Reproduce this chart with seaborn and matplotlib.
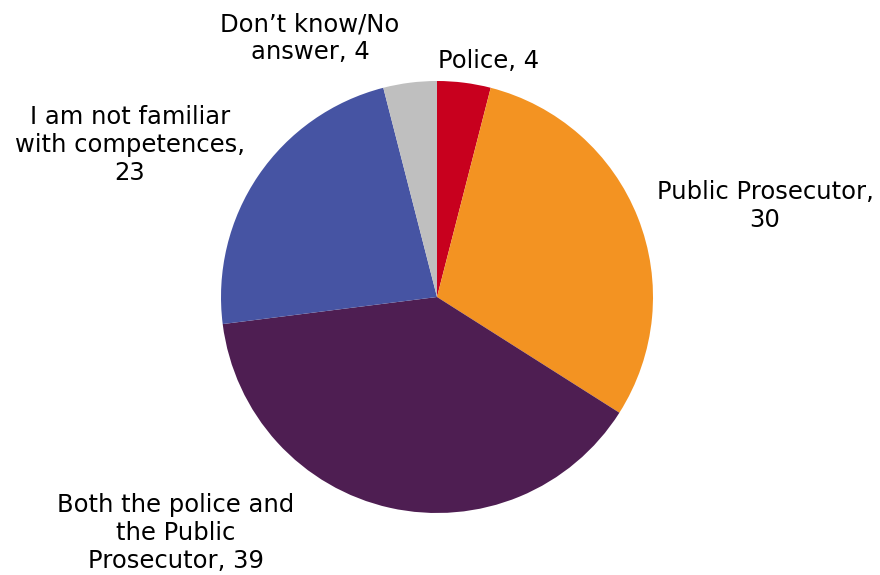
import matplotlib
matplotlib.use("Agg")
import matplotlib.pyplot as plt
import seaborn as sns

sns.set_theme(style="white")
plt.rcParams["font.family"] = ["DejaVu Sans"]

# Survey answers: who is competent (shares in %)
categories = ["Police", "Public Prosecutor", "Both the police and\nthe Public\nProsecutor",
              "I am not familiar\nwith competences", "Don\u2019t know/No\nanswer"]
values = [4, 30, 39, 23, 4]
colors = ["#C8001E", "#F39322", "#4E1E52", "#4654A3", "#BFBFBF"]
# Line break placed before the value for the longer labels
value_breaks = [False, True, False, True, False]

W, H = 880, 575
fig = plt.figure(figsize=(W / 100, H / 100), dpi=100)

# Pie centred at (437, 297) px with radius 216 px
cx, cy, r = 437, 297, 216
ax = fig.add_axes([(cx - r) / W, (H - cy - r) / H, 2 * r / W, 2 * r / H])
ax.pie(values, colors=colors, startangle=90, counterclock=False, radius=1,
       wedgeprops=dict(linewidth=0))
ax.set_xlim(-1, 1)
ax.set_ylim(-1, 1)
ax.set_aspect("equal")
ax.axis("off")

# Category labels with values, positioned around the pie (pixel coords)
label_pos = [(489, 61), (765, 206), (176, 533), (130, 145), (310, 38)]
for name, val, brk, (px, py) in zip(categories, values, value_breaks, label_pos):
    sep = ",\n" if brk else ", "
    fig.text(px / W, 1 - py / H, f"{name}{sep}{val}", ha="center", va="center",
             fontsize=17.5, color="#000000", linespacing=1.2)

fig.savefig("out.png", dpi=100, facecolor="white")
